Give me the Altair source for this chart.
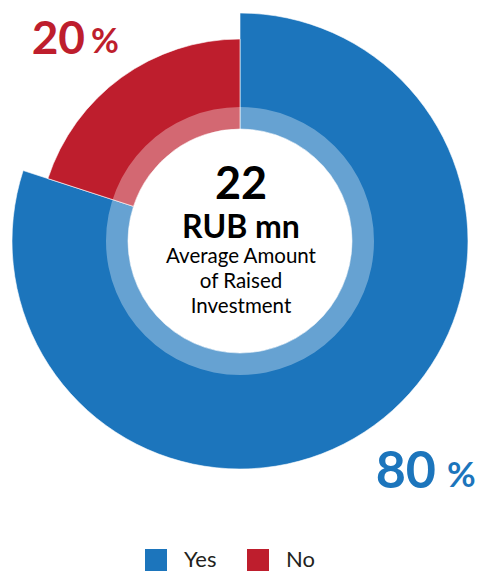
import altair as alt
import pandas as pd

categories = ["Yes", "No"]
shares = [80, 20]
colors = ["#1c75bc", "#be1e2d"]
center_value = "22"
center_unit = "RUB mn"
center_lines = ["Average Amount", "of Raised", "Investment"]

df = pd.DataFrame({"Category": categories, "Share": shares, "rank": list(range(len(categories)))})

W, H = 469, 564
CX, CY = 232, 233
FONT = "Lato"
TAU = 6.283185

color_scale = alt.Scale(domain=categories, range=colors)
theta_scale = alt.Scale(domain=[0, 100], range=[0, TAU])

base = alt.Chart(df).transform_window(
    end="sum(Share)", sort=[alt.SortField("rank")], frame=[None, 0]
).transform_calculate(start="datum.end - datum.Share")

legend = alt.Legend(title=None, orient="none", legendX=137, legendY=541,
                    direction="horizontal", symbolType="square",
                    symbolSize=484, symbolStrokeWidth=0,
                    labelFontSize=22, labelFont=FONT, labelColor="#231f20",
                    labelOffset=17, columnPadding=30)

def slice_layer(cat, outer):
    return base.transform_filter(alt.datum.Category == cat).mark_arc(
        innerRadius=112, radius=outer, stroke="white", strokeWidth=0.6
    ).encode(
        theta=alt.Theta("start:Q", scale=theta_scale),
        theta2="end:Q",
        color=alt.Color("Category:N", scale=color_scale, sort=categories, legend=legend),
        x=alt.value(CX), y=alt.value(CY),
    )

yes_arc = slice_layer("Yes", 228)
no_arc = slice_layer("No", 202)

ring = alt.Chart(pd.DataFrame({"k": [0]})).mark_arc(
    theta=0, theta2=TAU, radius=134, radius2=112, innerRadius=112, fill="white", opacity=0.33
).encode(x=alt.value(CX), y=alt.value(CY))

def txt(text, x, y, size, weight="normal", color="#000000", align="center"):
    return alt.Chart(pd.DataFrame({"t": [text]})).mark_text(
        font=FONT, fontSize=size, fontWeight=weight, color=color, align=align, baseline="alphabetic"
    ).encode(text="t:N", x=alt.value(x), y=alt.value(y))

texts = [
    txt(center_value, CX + 1, 191, 45, "bold"),
    txt(center_unit, CX + 1, 230, 32, "bold"),
    txt(center_lines[0], CX + 1, 255, 20.5),
    txt(center_lines[1], CX + 1, 280, 20.5),
    txt(center_lines[2], CX + 1, 305, 20.5),
    txt(f"{shares[1]}", 77, 46, 46, "bold", colors[1], "right"),
    txt("%", 83, 45, 34, "bold", colors[1], "left"),
    txt(f"{shares[0]}", 428, 480, 52, "bold", colors[0], "right"),
    txt("%", 439, 479, 35, "bold", colors[0], "left"),
]

chart = alt.layer(yes_arc, no_arc, ring, *texts).properties(
    width=W, height=H, autosize=alt.AutoSizeParams(type="none"), padding=0
).configure_view(stroke=None)

chart.save("out.html", embed_options={"renderer": "svg", "actions": False})
